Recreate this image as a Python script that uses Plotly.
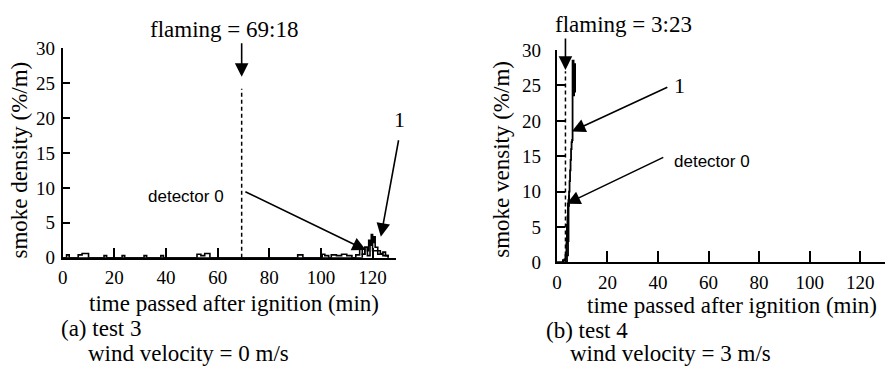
import plotly.graph_objects as go

# ---------------- data ----------------
# (a) test 3, wind 0 m/s
flaming_a = 69.3          # 69:18 min
flaming_a_top = 24.2
a_det0_t = [0, 1.5, 2.5, 6, 7.5, 10, 16, 17, 23, 24, 31.5, 32.5, 38, 39, 52, 53.5, 55, 57,
            91, 93, 100.5, 101.5, 103, 104, 106, 108, 110, 112, 113.5, 115, 116, 117, 118,
            119, 120, 122, 124, 126]
a_det0_v = [0, 0.4, 0, 0.4, 0.6, 0, 0.3, 0, 0.3, 0, 0.3, 0, 0.3, 0, 0.5, 0.3, 0.6, 0,
            0.4, 0, 0.5, 0.3, 0, 0.4, 0.3, 0.5, 0.3, 0, 0.4, 1.2, 0.5, 1.5, 0.3,
            2, 1, 0.5, 0.3, 0]
a_det1_t = [0, 114, 116, 117, 118, 118.5, 119, 119.5, 120, 120.5, 121, 122, 123, 124, 125, 126]
a_det1_v = [0, 0, 0.5, 1.5, 1, 2.5, 1.8, 3.3, 2.2, 3, 1.5, 1, 0.6, 0.8, 0.3, 0]

# (b) test 4, wind 3 m/s
flaming_b = 3.38          # 3:23 min
flaming_b_top = 27.0
b_det0_t = [0, 2.4, 3.0, 3.4, 3.8, 4.0, 4.2, 4.4, 4.6, 4.8]
b_det0_v = [0, 0.3, 0.4, 1.0, 2.7, 5.3, 6.5, 8.3, 8.8, 9.5]
b_det1_t = [0, 3.6, 4.0, 4.4, 4.6, 4.8, 5.0, 5.2, 5.4, 5.6, 5.8, 6.0, 6.2, 6.6, 6.8, 7.2]
b_det1_v = [0, 0, 1.0, 3.0, 8.0, 10, 11.5, 13, 14.5, 16, 17, 17.3, 28.5, 23.6, 28, 24]

x_ticks = [0, 20, 40, 60, 80, 100, 120]
y_ticks = [0, 5, 10, 15, 20, 25, 30]

SERIF = "Liberation Serif"
SANS = "Liberation Sans"

OFF = 8                      # page body margin
W, H = 893 - OFF, 381 - OFF
def px(x):
    return (x - OFF) / W
def py(y):
    return 1 - (y - OFF) / H

fig = go.Figure()

line = dict(color="black", width=1.6, shape="hv")
fig.add_trace(go.Scatter(x=a_det0_t, y=a_det0_v, mode="lines", line=line, xaxis="x", yaxis="y"))
fig.add_trace(go.Scatter(x=a_det1_t, y=a_det1_v, mode="lines", line=line, xaxis="x", yaxis="y"))
fig.add_trace(go.Scatter(x=[flaming_a, flaming_a], y=[0, flaming_a_top], mode="lines",
                         line=dict(color="black", width=1.5, dash="4px,3px"), xaxis="x", yaxis="y"))

fig.add_trace(go.Scatter(x=b_det0_t, y=b_det0_v, mode="lines", line=dict(color="black", width=2, shape="hv"),
                         xaxis="x2", yaxis="y2"))
fig.add_trace(go.Scatter(x=b_det1_t, y=b_det1_v, mode="lines", line=dict(color="black", width=1.8, shape="hv"),
                         xaxis="x2", yaxis="y2"))
fig.add_trace(go.Scatter(x=[flaming_b, flaming_b], y=[0, flaming_b_top], mode="lines",
                         line=dict(color="black", width=1.5, dash="4px,3px"), xaxis="x2", yaxis="y2"))

axis_common = dict(showline=True, linecolor="black", linewidth=2, showgrid=False, zeroline=False,
                   ticks="inside", tickcolor="black", tickwidth=1.5,
                   tickfont=dict(family=SERIF, size=19, color="black"))

fig.update_layout(
    width=W, height=H, autosize=False,
    margin=dict(l=0, r=0, t=0, b=0),
    paper_bgcolor="white", plot_bgcolor="white",
    showlegend=False,
    xaxis=dict(axis_common, domain=[px(58), px(393)], range=[0, 129], tickvals=x_ticks,
               ticklen=10, anchor="y", ticklabelstandoff=2),
    yaxis=dict(axis_common, domain=[py(262), py(40)], range=[0, 30], tickvals=y_ticks,
               ticklen=7, anchor="x", ticklabelstandoff=2),
    xaxis2=dict(axis_common, domain=[px(555), px(888)], range=[0, 131], tickvals=x_ticks,
                ticklen=11, anchor="y2", ticklabelstandoff=2),
    yaxis2=dict(axis_common, domain=[py(267), py(42)], range=[0, 30], tickvals=y_ticks,
                ticklen=8, anchor="x2", ticklabelstandoff=10),
)

def text(x, y, s, size=23, family=SERIF, xanchor="center", angle=0):
    fig.add_annotation(x=px(x), y=py(y), xref="paper", yref="paper", text=s, showarrow=False,
                       xanchor=xanchor, yanchor="middle", textangle=angle, borderpad=0,
                       font=dict(family=family, size=size, color="black"))

def arrow(xa, ya, x, y, ax, ay):
    fig.add_annotation(x=x, y=y, xref=xa, yref=ya, ax=ax, ay=ay, axref="pixel", ayref="pixel",
                       text="", showarrow=True, arrowhead=2, arrowsize=1.7, arrowwidth=1.6,
                       arrowcolor="black")

# panel (a)
text(220, 20, "flaming = 69:18")
arrow("x", "y", flaming_a, 25.9, 0, -35)
text(182, 197, "detector 0", size=17, family=SANS)
arrow("x", "y", 117.4, 1.1, -122, -59)
text(397, 116, "1", size=22)
arrow("x", "y", 123.2, 3.0, 18, -98)
text(15, 158, "smoke density (%/m)", size=23, angle=-90)
text(230, 311, "time passed after ignition (min)", size=23)
text(55, 337, "(a) test 3", size=23, xanchor="left")
text(82, 363, "wind velocity = 0 m/s", size=23, xanchor="left")

# panel (b)
text(622, 15, "flaming = 3:23")
arrow("x2", "y2", flaming_b, 27.2, 0, -33)
text(678, 80, "1", size=22)
arrow("x2", "y2", 5.9, 18.5, 97, -45)
text(672, 160, "detector 0", size=17, family=SANS, xanchor="left")
arrow("x2", "y2", 3.9, 8.3, 98, -47)
text(499, 158, "smoke vensity (%/m)", size=23, angle=-90)
text(731, 313, "time passed after ignition (min)", size=23)
text(543, 339, "(b) test 4", size=23, xanchor="left")
text(567, 364, "wind velocity = 3 m/s", size=23, xanchor="left")

fig.write_html("out.html")
